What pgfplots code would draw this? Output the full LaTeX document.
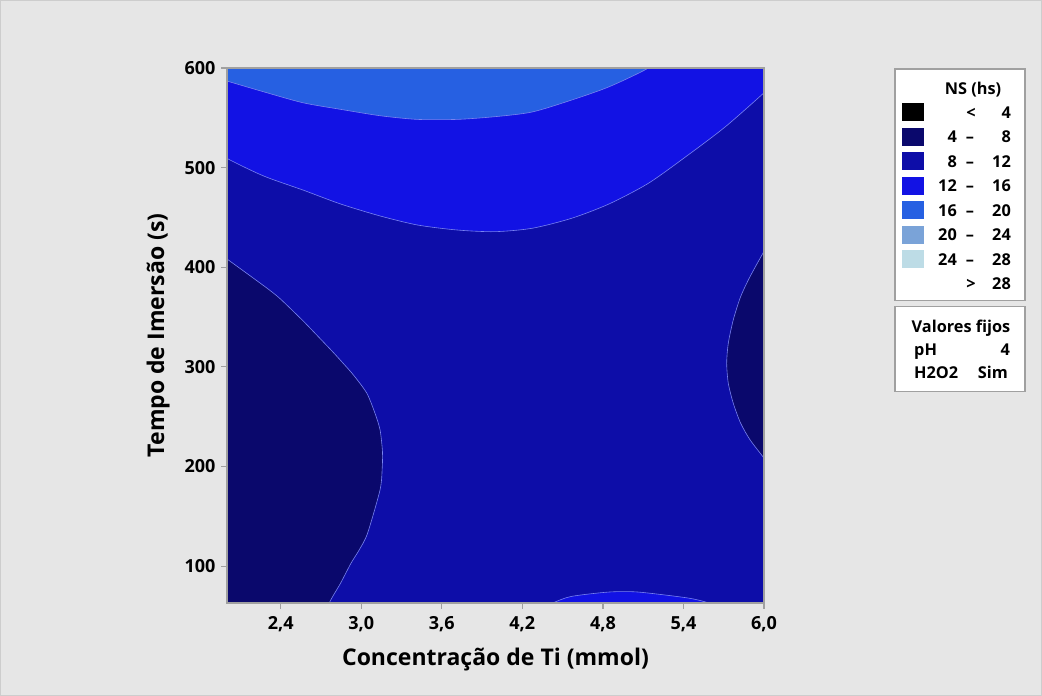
\documentclass[border=0pt]{standalone}
\usepackage{pgfplots}
\pgfplotsset{compat=1.18}
\usepackage{fontspec}
\setmainfont{Open Sans}

\definecolor{bgcol}{RGB}{230,230,230}
\definecolor{edgecol}{RGB}{205,205,205}
\definecolor{frm}{RGB}{160,160,160}
\definecolor{lvA}{RGB}{0,0,0}       % < 4
\definecolor{lvB}{RGB}{10,8,108}    % 4 - 8
\definecolor{lvC}{RGB}{13,13,168}   % 8 - 12
\definecolor{lvD}{RGB}{18,18,228}   % 12 - 16
\definecolor{lvE}{RGB}{38,96,226}   % 16 - 20
\definecolor{lvF}{RGB}{122,163,216} % 20 - 24
\definecolor{lvG}{RGB}{189,220,230} % 24 - 28
\definecolor{cline}{RGB}{120,130,240}

\newcommand{\lgfont}{\bfseries\fontsize{16.3}{18}\selectfont}

\begin{document}
\begin{tikzpicture}[x=1pt,y=1pt]
  % page background
  \fill[bgcol] (0,0) rectangle (1042,696);
  \draw[edgecol, line width=1pt] (0.5,0.5) rectangle (1041.5,695.5);

  \begin{axis}[
    name=main,
    at={(227pt,93pt)}, anchor=south west,
    scale only axis, width=537pt, height=535pt,
    xmin=2, xmax=6, ymin=63, ymax=600,
    xtick={2.4,3.0,3.6,4.2,4.8,5.4,6.0},
    ytick={100,200,300,400,500,600},
    xticklabel={\pgfmathprintnumber[fixed,fixed zerofill,precision=1,use comma]{\tick}},
    /pgf/number format/assume math mode=true,
    axis background/.style={fill=lvC},
    axis on top,
    axis line style={draw=frm, line width=1.5pt},
    tick align=outside,
    tick pos=left,
    major tick length=6pt,
    every tick/.style={draw=frm, line width=1.2pt},
    tick label style={font=\bfseries\fontsize{18}{18}\selectfont, text=black},
    xticklabel style={yshift=-4pt},
    yticklabel style={xshift=-2pt},
    xlabel={Concentração de Ti (mmol)},
    ylabel={Tempo de Imersão (s)},
    label style={font=\bfseries\fontsize{23}{26}\selectfont},
    xlabel style={at={(axis description cs:0.5,-0.1065)}, anchor=center},
    ylabel style={at={(axis description cs:-0.128,0.5)}, anchor=center},
    every axis plot/.append style={draw=cline, line width=0.6pt, smooth, tension=0.45},
  ]
    % 12 - 16 band across the upper part
    \addplot[fill=lvD] coordinates {
      (1.9,520) (2,509.3) (2.273,491.6) (2.566,477.5) (2.846,463.5) (3.140,451.5)
      (3.419,442.4) (3.713,437.4) (3.993,435.7) (4.272,439.1) (4.566,449.1)
      (4.845,463.5) (5.139,484.3) (5.434,512.6) (5.712,541.0) (6,575.1)
      (6.1,588) (6.1,640) (1.9,640)} -- cycle;
    % 16 - 20 cap at the top
    \addplot[fill=lvE] coordinates {
      (1.9,591) (2,586.9) (2.273,576.1) (2.566,565.1) (2.846,558.5) (3.140,552.1)
      (3.419,548.4) (3.713,548.4) (3.993,551.1) (4.272,555.8) (4.566,567.8)
      (4.845,581.1) (5.139,600) (5.25,614) (1.9,640)} -- cycle;
    % 4 - 8 region on the left
    \addplot[fill=lvB] coordinates {
      (1.9,40) (1.9,418) (2,408.3) (2.283,380.5) (2.395,368.5) (2.568,346.0)
      (2.693,328.5) (2.792,314.5) (2.866,303.5) (2.941,292.0) (3.041,273.7)
      (3.102,253.6) (3.140,236.8) (3.158,215.0) (3.156,198.0) (3.140,176.6)
      (3.047,133.0) (2.985,116.3) (2.924,103.0) (2.846,82.9) (2.762,63)
      (2.73,45)} -- cycle;
    % 4 - 8 region on the right
    \addplot[fill=lvB] coordinates {
      (6.1,440) (6,416.0) (5.896,390.6) (5.826,370.5) (5.771,347.1) (5.734,323.7)
      (5.722,303.7) (5.734,283.6) (5.771,263.5) (5.826,243.5) (5.896,226.8)
      (6,208.4) (6.1,190)} -- cycle;
    % 12 - 16 bump at the bottom
    \addplot[fill=lvD] coordinates {
      (4.30,55) (4.426,63) (4.565,69.6) (4.845,74.0) (5.061,74.0) (5.434,68.0)
      (5.590,63) (5.70,57)} -- cycle;
  \end{axis}

  % contour level key
  \draw[frm, line width=1.2pt, fill=white] (895,627) rectangle (1025,395.3);
  \node[font=\lgfont, anchor=center] at (973,606.7) {NS (hs)};
  \foreach \c/\lo/\hi [count=\i from 0] in
      {lvA/{}/4, lvB/4/8, lvC/8/12, lvD/12/16, lvE/16/20, lvF/20/24, lvG/24/28, white/{}/28} {
    \pgfmathsetmacro{\yy}{583.7-24.5*\i}
    \fill[\c] (902,\yy-9) rectangle (924,\yy+9);
    \node[font=\lgfont, anchor=base east, inner sep=0] at (957,\yy-5.8) {\lo};
    \node[font=\lgfont, anchor=base east, inner sep=0] at (1011,\yy-5.8) {\hi};
  }
  \node[font=\lgfont, anchor=base, inner sep=0] at (971,583.7-5.8) {<};
  \foreach \i in {1,...,6} {
    \pgfmathsetmacro{\yy}{583.7-24.5*\i}
    \node[font=\lgfont, anchor=base, inner sep=0] at (970,\yy-5.8) {–};
  }
  \node[font=\lgfont, anchor=base, inner sep=0] at (971,412.2-5.8) {>};

  % fixed factor settings
  \draw[frm, line width=1.2pt, fill=white] (895,389.3) rectangle (1025,304.3);
  \node[font=\lgfont, anchor=base, inner sep=0] at (961,369.3-5.8) {Valores fijos};
  \node[font=\lgfont, anchor=base west, inner sep=0] at (914,346-5.8) {pH};
  \node[font=\lgfont, anchor=base east, inner sep=0] at (1010,346-5.8) {4};
  \node[font=\lgfont, anchor=base west, inner sep=0] at (914,323-5.8) {H2O2};
  \node[font=\lgfont, anchor=base east, inner sep=0] at (1008,323-5.8) {Sim};
\end{tikzpicture}
\end{document}
